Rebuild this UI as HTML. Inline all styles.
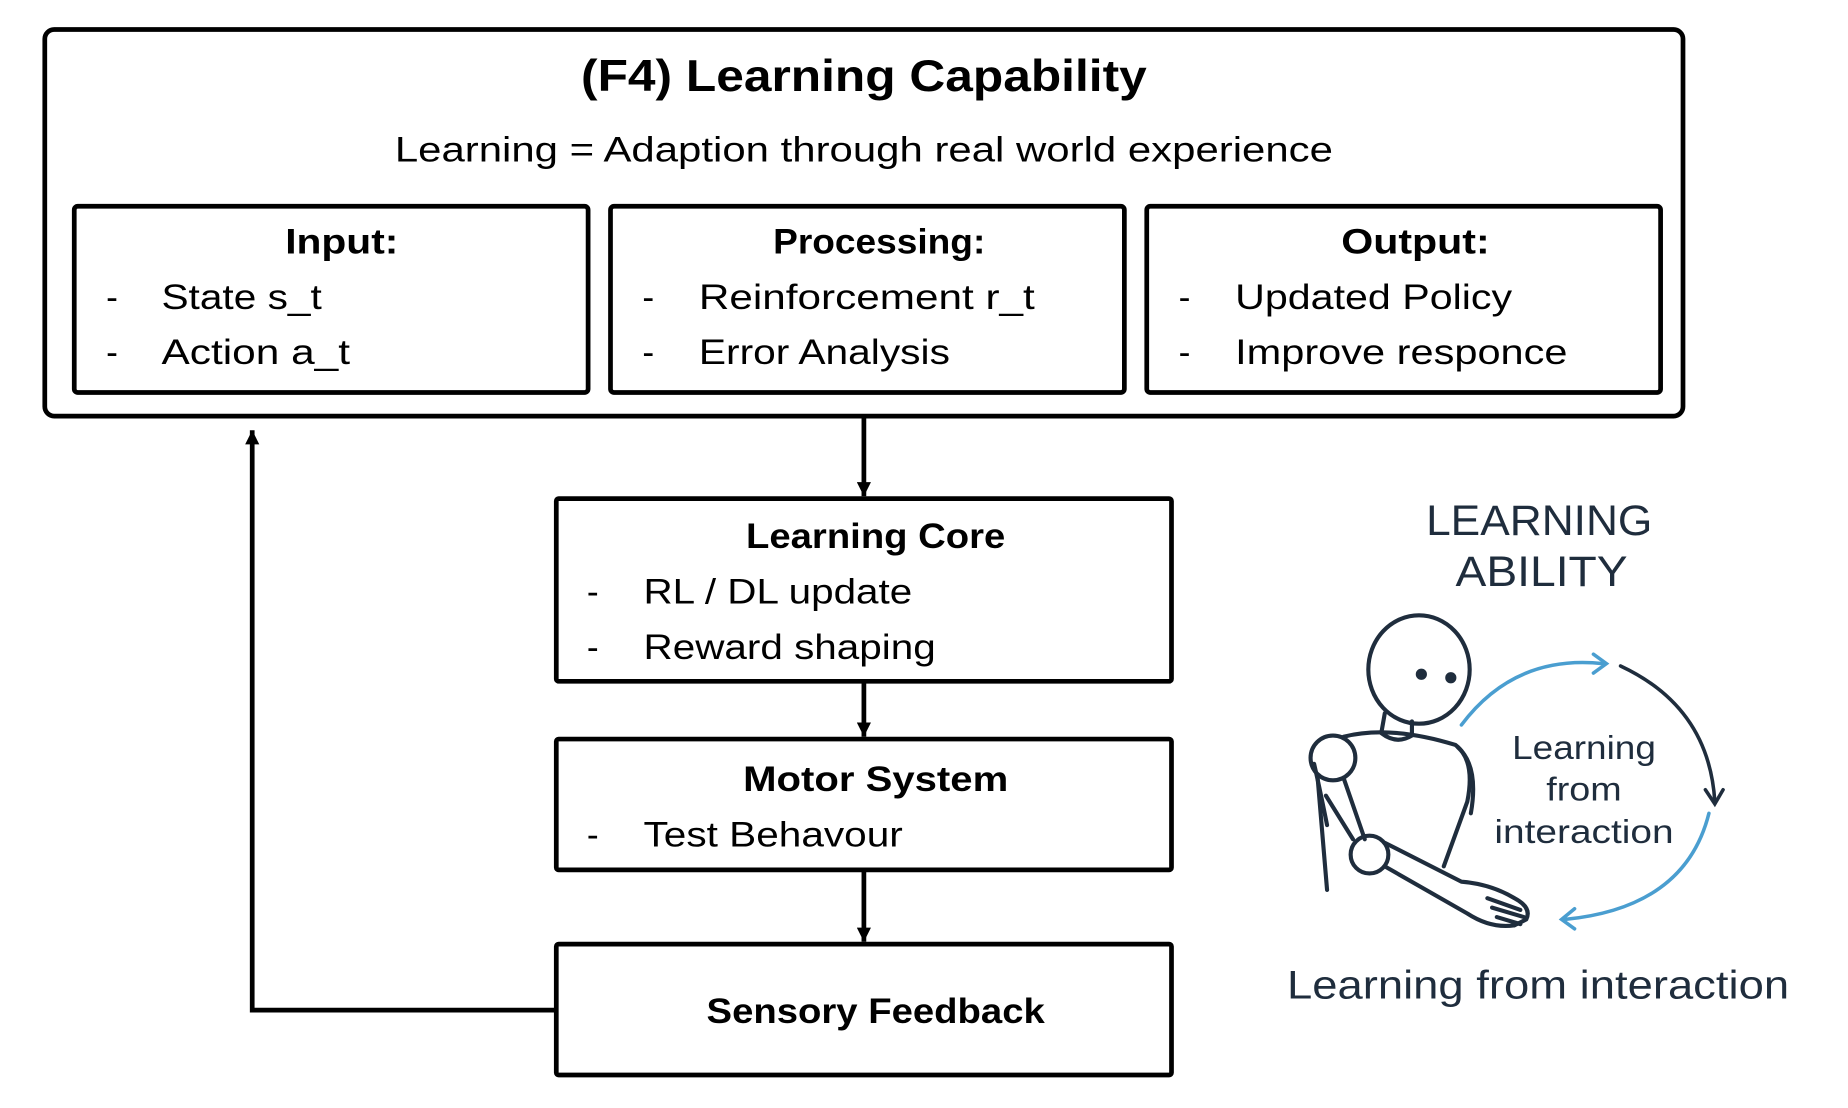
<!DOCTYPE html>
<html><head><meta charset="utf-8"><style>html,body{margin:0;padding:0;background:#fff}svg{display:block}</style></head>
<body>
<svg width="1848" height="1108" viewBox="0 0 1568 940" preserveAspectRatio="none" xmlns="http://www.w3.org/2000/svg" font-family="Liberation Sans, sans-serif">
<defs>
<marker id="ah" markerWidth="12" markerHeight="12" refX="10" refY="5" orient="auto" markerUnits="userSpaceOnUse" viewBox="0 0 10 10"><path d="M0,0 L10,5 L0,10 Z" fill="#000"/></marker>
</defs>
<rect x="38" y="25" width="1390" height="328" rx="8" fill="none" stroke="#000" stroke-width="4"/>
<text x="733" y="77" text-anchor="middle" font-size="38" font-weight="bold" textLength="480" lengthAdjust="spacingAndGlyphs">(F4) Learning Capability</text>
<text x="733" y="137" text-anchor="middle" font-size="30" textLength="796" lengthAdjust="spacingAndGlyphs">Learning = Adaption through real world experience</text>
<g stroke="#000" stroke-width="4" fill="none">
<rect x="63" y="175" width="436" height="158" rx="3"/>
<rect x="518" y="175" width="436" height="158" rx="3"/>
<rect x="973" y="175" width="436" height="158" rx="3"/>
<rect x="472" y="423" width="522" height="155" rx="2"/>
<rect x="472" y="627" width="522" height="111" rx="2"/>
<rect x="472" y="801" width="522" height="111" rx="2"/>
</g>
<g font-size="30">
<text x="290" y="215" text-anchor="middle" font-weight="bold" textLength="96" lengthAdjust="spacingAndGlyphs">Input:</text>
<text x="90" y="262">-</text><text x="137" y="262" textLength="136" lengthAdjust="spacingAndGlyphs">State s_t</text>
<text x="90" y="309">-</text><text x="137" y="309" textLength="160" lengthAdjust="spacingAndGlyphs">Action a_t</text>
<text x="746" y="215" text-anchor="middle" font-weight="bold" textLength="180" lengthAdjust="spacingAndGlyphs">Processing:</text>
<text x="545" y="262">-</text><text x="593" y="262" textLength="285" lengthAdjust="spacingAndGlyphs">Reinforcement r_t</text>
<text x="545" y="309">-</text><text x="593" y="309" textLength="213" lengthAdjust="spacingAndGlyphs">Error Analysis</text>
<text x="1201" y="215" text-anchor="middle" font-weight="bold" textLength="126" lengthAdjust="spacingAndGlyphs">Output:</text>
<text x="1000" y="262">-</text><text x="1048" y="262" textLength="235" lengthAdjust="spacingAndGlyphs">Updated Policy</text>
<text x="1000" y="309">-</text><text x="1048" y="309" textLength="282" lengthAdjust="spacingAndGlyphs">Improve responce</text>
<text x="743" y="465" text-anchor="middle" font-weight="bold" textLength="220" lengthAdjust="spacingAndGlyphs">Learning Core</text>
<text x="498" y="512">-</text><text x="546" y="512" textLength="228" lengthAdjust="spacingAndGlyphs">RL / DL update</text>
<text x="498" y="559">-</text><text x="546" y="559" textLength="248" lengthAdjust="spacingAndGlyphs">Reward shaping</text>
<text x="743" y="671" text-anchor="middle" font-weight="bold" textLength="225" lengthAdjust="spacingAndGlyphs">Motor System</text>
<text x="498" y="718">-</text><text x="546" y="718" textLength="220" lengthAdjust="spacingAndGlyphs">Test Behavour</text>
<text x="743" y="868" text-anchor="middle" font-weight="bold" textLength="287" lengthAdjust="spacingAndGlyphs">Sensory Feedback</text>
</g>
<g stroke="#000" stroke-width="4" fill="none">
<line x1="733" y1="353" x2="733" y2="421" marker-end="url(#ah)"/>
<line x1="733" y1="578" x2="733" y2="625" marker-end="url(#ah)"/>
<line x1="733" y1="738" x2="733" y2="799" marker-end="url(#ah)"/>
<polyline points="472,857 214,857 214,365" marker-end="url(#ah)"/>
</g>
<g fill="#1f2d3d">
<text x="1306" y="454" text-anchor="middle" font-size="36" textLength="192" lengthAdjust="spacingAndGlyphs">LEARNING</text>
<text x="1308" y="497" text-anchor="middle" font-size="36" textLength="146" lengthAdjust="spacingAndGlyphs">ABILITY</text>
<text x="1344" y="644" text-anchor="middle" font-size="28" textLength="122" lengthAdjust="spacingAndGlyphs">Learning</text>
<text x="1344" y="679" text-anchor="middle" font-size="28" textLength="64" lengthAdjust="spacingAndGlyphs">from</text>
<text x="1344" y="715" text-anchor="middle" font-size="28" textLength="152" lengthAdjust="spacingAndGlyphs">interaction</text>
<text x="1305" y="847" text-anchor="middle" font-size="34" textLength="426" lengthAdjust="spacingAndGlyphs">Learning from interaction</text>
</g>
<g stroke="#1f2d3d" stroke-width="3.5" fill="none" stroke-linecap="round" stroke-linejoin="round">
<ellipse cx="1204" cy="568" rx="43" ry="46"/>
<circle cx="1206" cy="572" r="3" fill="#1f2d3d"/><circle cx="1231" cy="575" r="3" fill="#1f2d3d"/>
<path d="M1175,605 L1172,622 Q1185,632 1198,624 L1198,612"/>
<path d="M1140,625 Q1180,615 1235,632 Q1252,645 1245,680 L1225,735"/>
<path d="M1237,634 Q1255,650 1248,690"/>
<circle cx="1131" cy="643" r="19"/>
<path d="M1118,660 L1126,755"/>
<path d="M1115,648 Q1120,670 1126,700"/>
<path d="M1140,660 L1158,712"/>
<path d="M1125,675 L1148,712"/>
<circle cx="1162" cy="725" r="16"/>
<path d="M1175,735 L1245,775 Q1265,788 1285,785"/>
<path d="M1175,715 L1240,748 Q1265,750 1285,762 Q1300,770 1295,780 L1285,785"/>
<path d="M1262,762 L1290,772 M1266,770 L1293,778 M1270,778 L1290,784"/>
</g>
<g fill="none" stroke-width="3" stroke-linecap="round">
<path d="M1240,615 Q1285,555 1360,563" stroke="#4a9ed0"/>
<path d="M1352,555 L1363,563 L1352,571" stroke="#4a9ed0"/>
<path d="M1375,565 Q1450,600 1455,680" stroke="#1f2d3d"/>
<path d="M1447,670 L1455,682 L1462,670" stroke="#1f2d3d"/>
<path d="M1450,690 Q1430,770 1328,780" stroke="#4a9ed0"/>
<path d="M1336,771 L1325,780 L1336,788" stroke="#4a9ed0"/>
</g>
</svg>
</body></html>
